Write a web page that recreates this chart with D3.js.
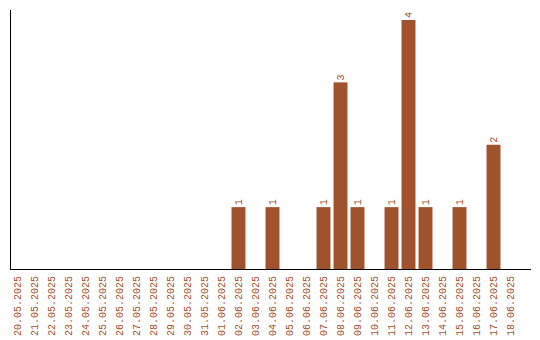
<!DOCTYPE html>
<html><head><meta charset="utf-8">
<script src="https://cdn.jsdelivr.net/npm/d3@7"></script>
<style>body{margin:0;background:#fff}svg{display:block}text{-webkit-font-smoothing:none;font-smooth:never}</style>
</head><body><svg id="c" width="540" height="340"></svg>
<script>
const dates = ["20.05.2025","21.05.2025","22.05.2025","23.05.2025","24.05.2025","25.05.2025","26.05.2025","27.05.2025","28.05.2025","29.05.2025","30.05.2025","31.05.2025","01.06.2025","02.06.2025","03.06.2025","04.06.2025","05.06.2025","06.06.2025","07.06.2025","08.06.2025","09.06.2025","10.06.2025","11.06.2025","12.06.2025","13.06.2025","14.06.2025","15.06.2025","16.06.2025","17.06.2025","18.06.2025"];
const counts = [0,0,0,0,0,0,0,0,0,0,0,0,0,1,0,1,0,0,1,3,1,0,1,4,1,0,1,0,2,0];

const svg = d3.select("#c");
const color = "#a0522d";
const font = "Liberation Mono, monospace";
const x = d3.scaleBand().domain(dates).range([9, 519]).paddingInner(0.18).paddingOuter(0.09);
const y = d3.scaleLinear().domain([0, 4]).range([269.5, 20]);

const data = dates.map((d,i)=>({d, v: counts[i]}));

svg.selectAll("rect.bar").data(data.filter(o=>o.v>0)).join("rect")
  .attr("class","bar")
  .attr("x", o=>x(o.d)).attr("width", x.bandwidth())
  .attr("y", o=>y(o.v)).attr("height", o=>y(0)-y(o.v))
  .attr("fill", color);

svg.selectAll("text.val").data(data.filter(o=>o.v>0)).join("text")
  .attr("class","val")
  .attr("transform", o=>`translate(${x(o.d)+x.bandwidth()/2},${y(o.v)-2}) rotate(-90)`)
  .attr("dy","0.35em")
  .attr("text-anchor","start")
  .attr("font-family", font).attr("font-size", 10)
  .attr("fill", color)
  .text(o=>o.v);

// axes
svg.append("line").attr("x1",10.5).attr("x2",10.5).attr("y1",10).attr("y2",270).attr("stroke","#000");
svg.append("line").attr("x1",10).attr("x2",531).attr("y1",269.5).attr("y2",269.5).attr("stroke","#000");

svg.selectAll("text.tick").data(dates).join("text")
  .attr("class","tick")
  .attr("transform", d=>`translate(${x(d)+x.bandwidth()/2},276) rotate(-90)`)
  .attr("dy","0.35em")
  .attr("text-anchor","end")
  .attr("font-family", font).attr("font-size", 10)
  .attr("fill", color)
  .text(d=>d);
</script></body></html>
